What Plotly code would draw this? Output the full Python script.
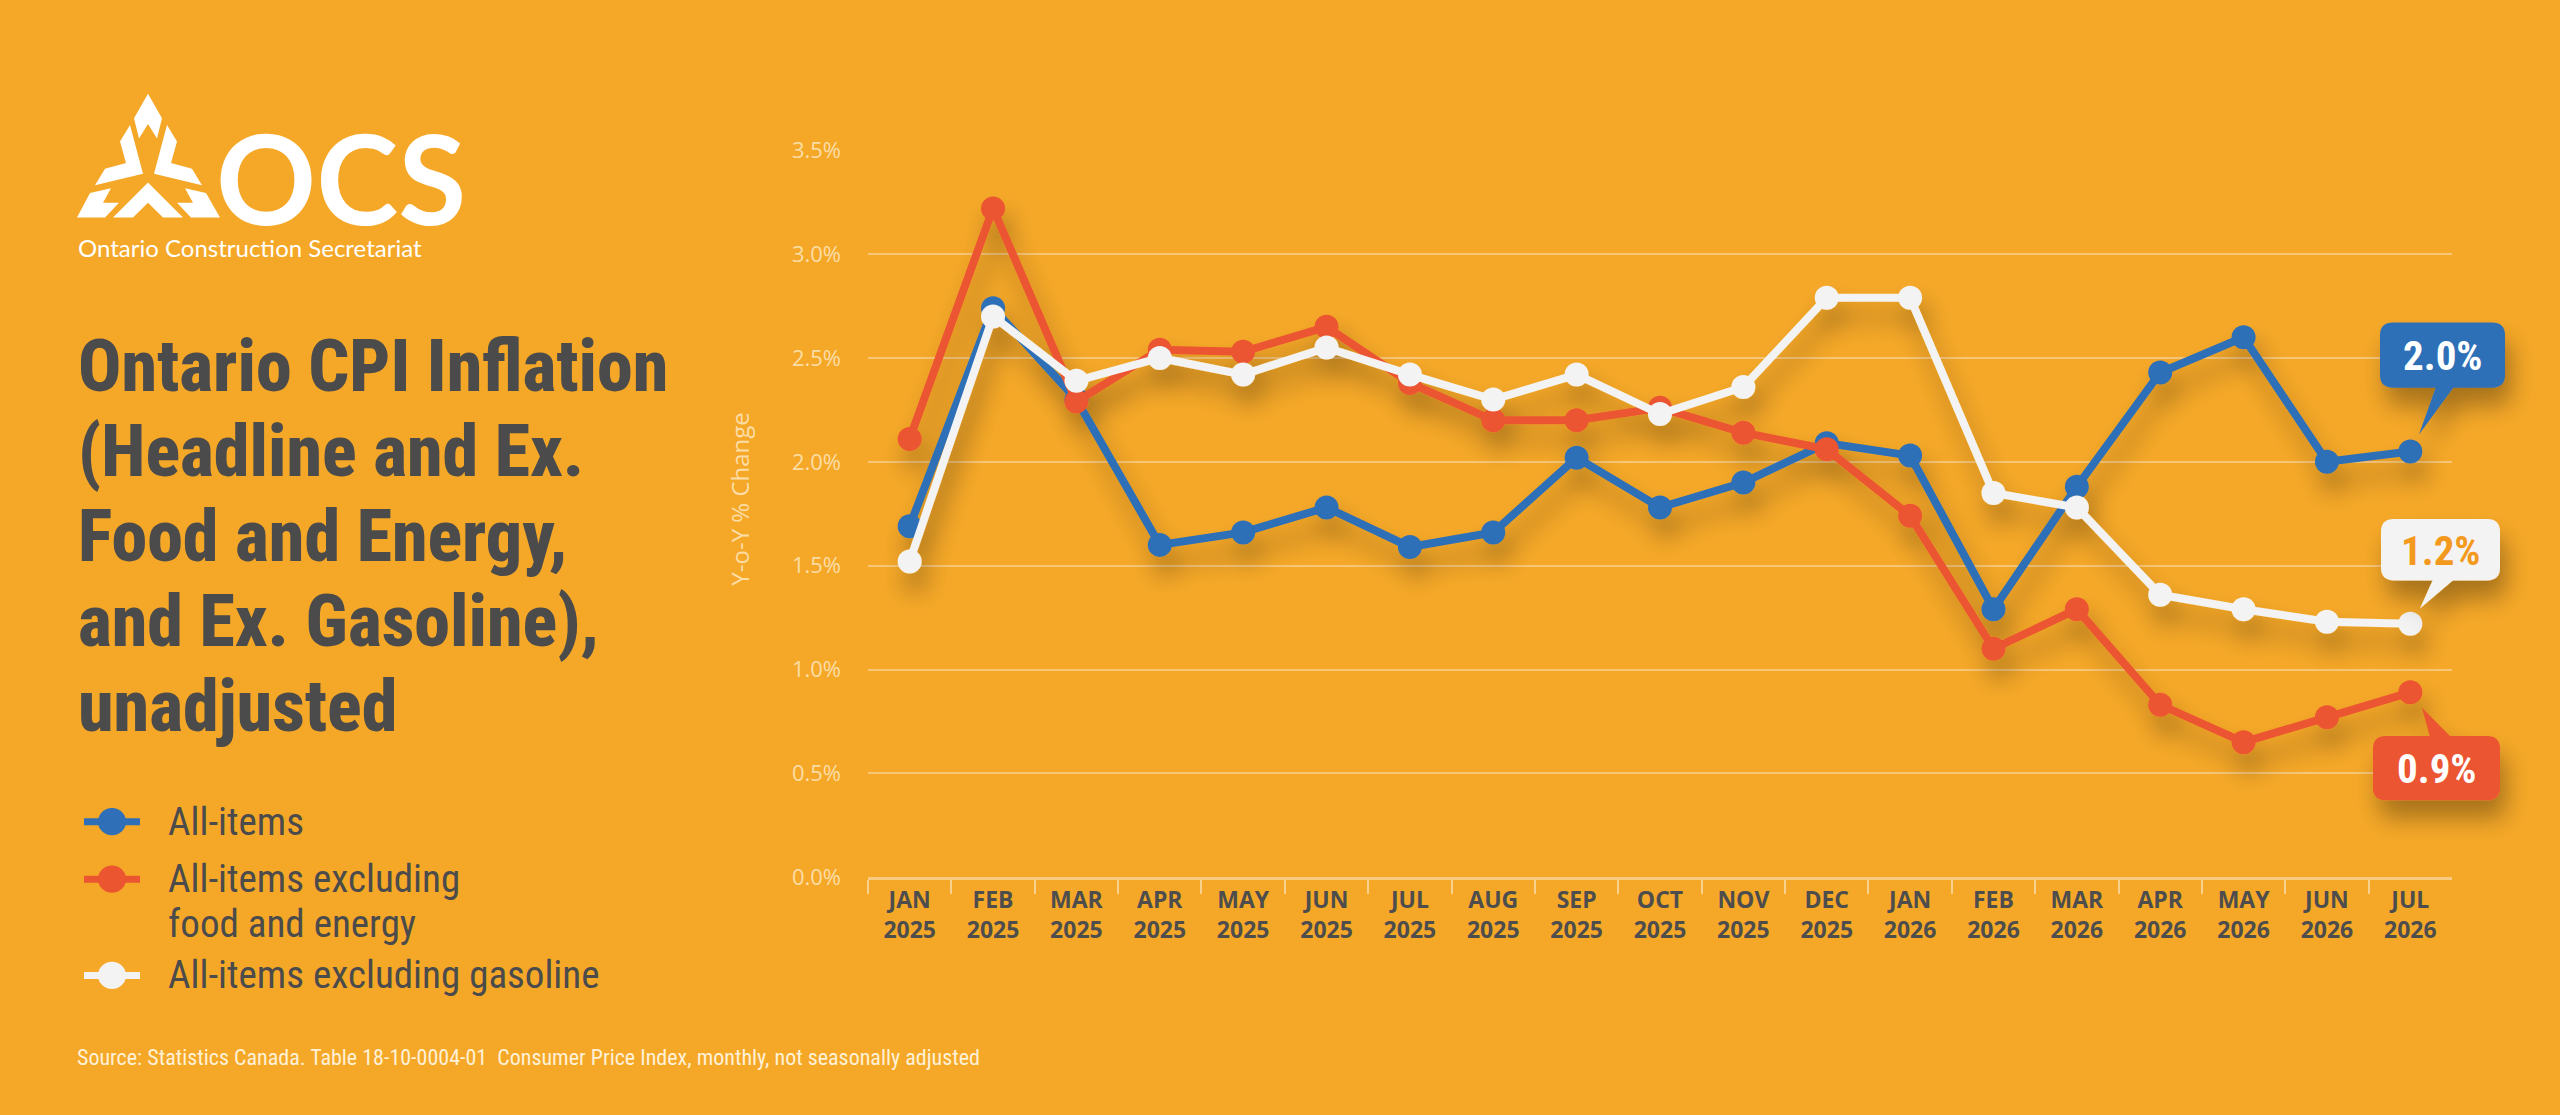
import plotly.graph_objects as go

W, H = 2560, 1115

# month labels on the x axis
months = [
    "JAN<br>2025", "FEB<br>2025", "MAR<br>2025", "APR<br>2025", "MAY<br>2025",
    "JUN<br>2025", "JUL<br>2025", "AUG<br>2025", "SEP<br>2025", "OCT<br>2025",
    "NOV<br>2025", "DEC<br>2025", "JAN<br>2026", "FEB<br>2026", "MAR<br>2026",
    "APR<br>2026", "MAY<br>2026", "JUN<br>2026", "JUL<br>2026",
]

# y-o-y % change
all_items = [1.69, 2.74, 2.30, 1.60, 1.66, 1.78, 1.59, 1.66, 2.02, 1.78,
             1.90, 2.09, 2.03, 1.29, 1.88, 2.43, 2.60, 2.00, 2.05]
ex_food_energy = [2.11, 3.22, 2.29, 2.54, 2.53, 2.65, 2.38, 2.20, 2.20, 2.26,
                  2.14, 2.06, 1.74, 1.10, 1.29, 0.83, 0.65, 0.77, 0.89]
ex_gasoline = [1.52, 2.70, 2.39, 2.50, 2.42, 2.55, 2.42, 2.30, 2.42, 2.23,
               2.36, 2.79, 2.79, 1.85, 1.78, 1.36, 1.29, 1.23, 1.22]

series_names = ["All-items", "All-items excluding<br>food and energy",
                "All-items excluding gasoline"]
latest_labels = ["2.0%", "0.9%", "1.2%"]
y_ticks = [0.0, 0.5, 1.0, 1.5, 2.0, 2.5, 3.0, 3.5]

title_lines = ["Ontario CPI Inflation", "(Headline and Ex.", "Food and Energy,",
               "and Ex. Gasoline),", "unadjusted"]
source_text = ("Source: Statistics Canada. Table 18-10-0004-01  "
               "Consumer Price Index, monthly, not seasonally adjusted")

BG = "#F5A828"
BLUE = "#2E6FB7"
RED = "#EB5530"
WHITE = "#F3F3F3"
DARK = "#4B4B4B"
CREAM = "#FCDDA6"
GRID = "#F8C677"
COND = "Noto Sans Condensed, Roboto Condensed, Liberation Sans Narrow, DejaVu Sans Condensed, sans-serif"
XCOND = "Noto Sans ExtraCondensed, Noto Sans Condensed, Roboto Condensed, DejaVu Sans Condensed, sans-serif"
colors = [BLUE, RED, WHITE]


def px(x, y):
    # pixel position -> paper coords
    return x / W, 1 - y / H


def poly(points):
    out = []
    for i, (x, y) in enumerate(points):
        a, b = px(x, y)
        out.append(("M" if i == 0 else "L") + f"{a:.5f},{b:.5f}")
    return " ".join(out) + " Z"


def rounded_box(x0, y0, x1, y1, r):
    pts = [("M", x0 + r, y0), ("L", x1 - r, y0), ("Q", x1, y0, x1, y0 + r),
           ("L", x1, y1 - r), ("Q", x1, y1, x1 - r, y1), ("L", x0 + r, y1),
           ("Q", x0, y1, x0, y1 - r), ("L", x0, y0 + r), ("Q", x0, y0, x0 + r, y0)]
    out = []
    for p in pts:
        cmd, coords = p[0], p[1:]
        xy = []
        for i in range(0, len(coords), 2):
            a, b = px(coords[i], coords[i + 1])
            xy.append(f"{a:.5f},{b:.5f}")
        out.append(cmd + " ".join(xy))
    return " ".join(out) + " Z"


def note(text, x, y, size, color, family=COND, weight=400, xanchor="left", angle=0):
    a, b = px(x, y)
    return dict(text=text, x=a, y=b, xref="paper", yref="paper",
                xanchor=xanchor, yanchor="middle", showarrow=False, textangle=angle,
                font=dict(family=family, size=size, color=color, weight=weight))


fig = go.Figure()
for name, vals, color in zip(series_names, [all_items, ex_food_energy, ex_gasoline], colors):
    fig.add_trace(go.Scatter(
        x=months, y=vals, name=name.replace("<br>", " "),
        mode="lines+markers",
        line=dict(color=color, width=8),
        marker=dict(size=24, color=color),
        cliponaxis=False, hoverinfo="skip", showlegend=False,
    ))

shapes = []
annotations = []

# logo mark
logo_parts = [
    [(148, 80), (162, 105), (157, 126), (148, 111), (139, 126), (134, 105)],
    [(130, 112), (143, 162), (95, 174), (105, 157), (126, 151), (120, 129)],
    [(167, 112), (177, 129), (171, 151), (192, 157), (202, 174), (154, 162)],
    [(148, 171), (183, 207), (163, 207), (148, 192), (133, 207), (113, 207)],
    [(90, 182), (111, 177), (103, 192), (119, 192), (105, 207), (77, 207)],
    [(206, 182), (185, 177), (193, 192), (177, 192), (191, 207), (220, 207)],
]
for part in logo_parts:
    shapes.append(dict(type="path", path=poly(part), xref="paper", yref="paper",
                       fillcolor="white", line=dict(width=0), layer="below"))
annotations.append(note("OCS", 214, 165, 124, "white", "Lato, Open Sans, sans-serif", 700))
annotations.append(note("Ontario Construction Secretariat", 76, 238, 24, "white",
                        "Lato, Open Sans, sans-serif", 400))

# title block
for i, line in enumerate(title_lines):
    annotations.append(note(line, 76, 360 + 87.5 * i, 72, DARK, family=XCOND, weight=800))

# hand-made legend
legend_y = [828, 887, 986]
for name, color, ly in zip(series_names, colors, legend_y):
    x0, y0 = px(84, ly)
    x1, _ = px(140, ly)
    shapes.append(dict(type="line", x0=x0, x1=x1, y0=y0, y1=y0, xref="paper", yref="paper",
                       line=dict(color=color, width=7), layer="below"))
    cx0, cy0 = px(98, ly - 14)
    cx1, cy1 = px(126, ly + 14)
    shapes.append(dict(type="circle", x0=cx0, x1=cx1, y0=cy1, y1=cy0, xref="paper", yref="paper",
                       fillcolor=color, line=dict(width=0), layer="below"))
    for j, part in enumerate(name.split("<br>")):
        annotations.append(note(part, 166, ly + 46 * j, 39, DARK))

annotations.append(note(source_text, 75, 1070, 22, "#FFF1D6"))

# y axis title
annotations.append(note("Y-o-Y % Change", 740, 497, 24, CREAM,
                        family="Open Sans, sans-serif", xanchor="center", angle=-90))

# call-outs for the latest value
callouts = [
    ((2380, 315, 2505, 382), [(2436, 381), (2454, 381), (2419, 430)], BLUE, "white", latest_labels[0]),
    ((2373, 740, 2500, 806), [(2430, 741), (2451, 741), (2422, 711)], RED, "white", latest_labels[1]),
    ((2381, 517, 2500, 580), [(2433, 579), (2454, 579), (2420, 609)], WHITE, "#F39A1E", latest_labels[2]),
]
for (bx0, by0, bx1, by1), tail, fill, tcol, label in callouts:
    shapes.append(dict(type="path", path=rounded_box(bx0, by0, bx1, by1, 13), xref="paper", yref="paper",
                       fillcolor=fill, line=dict(width=0), layer="above"))
    shapes.append(dict(type="path", path=poly(tail), xref="paper", yref="paper",
                       fillcolor=fill, line=dict(width=0), layer="above"))
    annotations.append(note(label, (bx0 + bx1) / 2, (by0 + by1) / 2 + 1, 41, tcol,
                            weight=700, xanchor="center"))

fig.update_layout(
    width=W, height=H, autosize=False,
    margin=dict(l=0, r=0, t=0, b=0),
    paper_bgcolor=BG, plot_bgcolor="rgba(0,0,0,0)",
    shapes=shapes, annotations=annotations,
    xaxis=dict(
        type="category", domain=[868 / W, 2452 / W], range=[-0.5, 18.5],
        tickson="boundaries", ticks="outside", ticklen=14, tickwidth=2, tickcolor="#F9D08C",
        showline=True, linecolor="#F9CC80", linewidth=3, showgrid=False,
        tickfont=dict(family="Open Sans, sans-serif", size=23, color="#4D4D4D", weight=700),
        fixedrange=True,
    ),
    yaxis=dict(
        domain=[(H - 885) / H, (H - 138) / H], range=[0, 3.5],
        tickvals=y_ticks, ticktext=[f"{v:.1f}%" for v in y_ticks],
        showgrid=True, gridcolor=GRID, gridwidth=2, zeroline=False, showline=False,
        ticks="", ticklabelstandoff=26,
        tickfont=dict(family="Open Sans, sans-serif", size=22, color=CREAM),
        fixedrange=True,
    ),
)

post_js = """
document.body.style.margin = '0';
var gd = document.getElementById('{plot_id}');
var ns = 'http://www.w3.org/2000/svg';
var svg = gd.querySelector('svg.main-svg');
var defs = svg.querySelector('defs');
var f = document.createElementNS(ns, 'filter');
f.setAttribute('id', 'dropshade');
f.setAttribute('x', '-20%'); f.setAttribute('y', '-20%');
f.setAttribute('width', '150%'); f.setAttribute('height', '170%');
f.innerHTML = '<feGaussianBlur in="SourceAlpha" stdDeviation="12"/>' +
  '<feOffset dx="6" dy="18" result="o"/>' +
  '<feComponentTransfer in="o" result="s"><feFuncA type="linear" slope="0.32"/></feComponentTransfer>' +
  '<feMerge><feMergeNode in="s"/><feMergeNode in="SourceGraphic"/></feMerge>';
defs.appendChild(f);
gd.querySelectorAll('.scatterlayer, .layer-above .shapelayer').forEach(function (g) {
  g.setAttribute('filter', 'url(#dropshade)');
});
"""

fig.write_html("out.html", post_script=post_js, config={"displayModeBar": False})
